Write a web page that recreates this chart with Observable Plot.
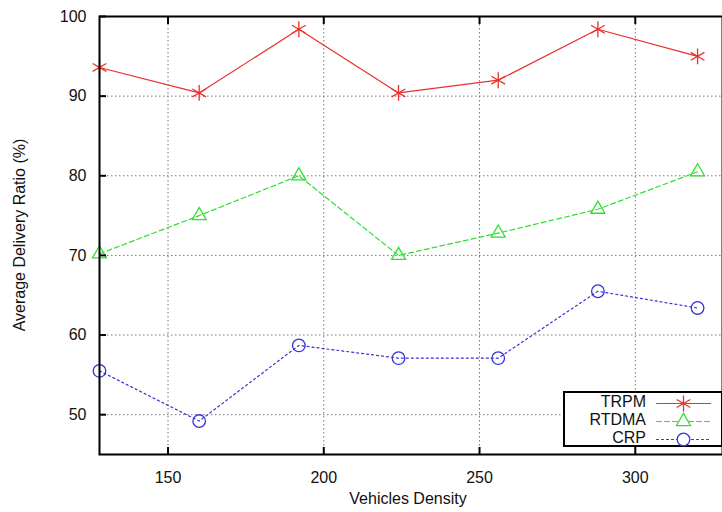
<!DOCTYPE html>
<html><head><meta charset="utf-8">
<script src="https://cdn.jsdelivr.net/npm/d3@7"></script>
<script src="https://cdn.jsdelivr.net/npm/@observablehq/plot@0.6"></script>
<style>
body{margin:0;background:#fff;font-family:"Liberation Sans",Arial,sans-serif;}
#wrap{position:relative;width:722px;height:512px;}
#legend{position:absolute;left:563px;top:391px;width:160px;height:56px;border:2px solid #000;background:#fff;box-sizing:border-box;}
.row{position:absolute;left:0;height:18px;width:160px;}
.row span{position:absolute;right:79px;top:-1px;font-size:16px;color:#111;}
.row svg{position:absolute;left:91px;top:0;}
</style>
</head><body><div id="wrap"><div id="chart"></div><div id="legend"></div></div>
<script>
const density = [128, 160, 192, 224, 256, 288, 320];
const trpm  = [93.6, 90.4, 98.4, 90.4, 92.0, 98.4, 95.0];
const rtdma = [70.2, 75.0, 80.0, 70.0, 72.8, 75.8, 80.5];
const crp   = [55.5, 49.2, 58.7, 57.1, 57.1, 65.5, 63.4];
const seriesNames = ["TRPM", "RTDMA", "CRP"];
const xTicks = [150, 200, 250, 300];
const yTicks = [50, 60, 70, 80, 90, 100];

const colors = {TRPM: "#e8302c", RTDMA: "#2fe02f", CRP: "#3434d6"};
const dashes = {TRPM: null, RTDMA: "5,3", CRP: "2,3"};
const symbols = {TRPM: "asterisk", RTDMA: "triangle", CRP: "circle"};
const sizes = {TRPM: 7.5, RTDMA: 5.2, CRP: 6.3};

const values = {TRPM: trpm, RTDMA: rtdma, CRP: crp};
const rows = seriesNames.flatMap(s => density.map((d, i) => ({series: s, x: d, y: values[s][i]})));

const marks = [
  Plot.gridX(xTicks, {stroke: "#777", strokeOpacity: 1, strokeDasharray: "1.5,2.5", strokeWidth: 1}),
  Plot.gridY(yTicks.filter(v => v < 100), {stroke: "#777", strokeOpacity: 1, strokeDasharray: "1.5,2.5", strokeWidth: 1}),
];
for (const s of seriesNames) {
  const data = rows.filter(r => r.series === s);
  marks.push(Plot.line(data, {x: "x", y: "y", stroke: colors[s], strokeWidth: 1.2, strokeDasharray: dashes[s]}));
  marks.push(Plot.dot(data, {x: "x", y: "y", stroke: colors[s], symbol: symbols[s], r: sizes[s], strokeWidth: 1.3, fill: "none"}));
}
marks.push(
  Plot.axisX(xTicks, {anchor: "bottom", tickSize: -7, text: null, label: null, stroke: "#000", strokeWidth: 2}),
  Plot.axisX(xTicks, {anchor: "top", tickSize: -7, text: null, label: null, stroke: "#000", strokeWidth: 2}),
  Plot.axisX(xTicks, {anchor: "bottom", tickSize: 0, tickPadding: 17, fontSize: 16, fill: "#111", label: null}),
  Plot.axisY(yTicks, {anchor: "left", tickSize: -7, text: null, label: null, stroke: "#000", strokeWidth: 2}),
  Plot.axisY(yTicks, {anchor: "left", tickSize: 0, tickPadding: 13, fontSize: 16, fill: "#111", label: null}),
  Plot.frame({stroke: "#000", strokeWidth: 2})
);

const chart = Plot.plot({
  width: 722, height: 512,
  marginLeft: 99, marginRight: 0, marginTop: 16, marginBottom: 58,
  style: {fontFamily: "'Liberation Sans', Arial, sans-serif", background: "#fff", overflow: "visible"},
  x: {domain: [128, 328]},
  y: {domain: [45, 100]},
  marks
});
document.getElementById("chart").append(chart);

// axis titles
const svg = d3.select(chart);
svg.append("text").attr("x", 408).attr("y", 504).attr("text-anchor", "middle")
  .attr("font-size", 16).attr("fill", "#111").text("Vehicles Density");
svg.append("text").attr("transform", "translate(25,235) rotate(-90)").attr("text-anchor", "middle")
  .attr("font-size", 16).attr("fill", "#111").text("Average Delivery Ratio (%)");

// legend
const leg = document.getElementById("legend");
seriesNames.forEach((s, i) => {
  const row = document.createElement("div");
  row.className = "row";
  row.style.top = (1 + i * 18) + "px";
  row.innerHTML = `<span>${s}</span>`;
  const mini = Plot.plot({
    width: 54, height: 18, margin: 0, axis: null,
    x: {domain: [0, 1]}, y: {domain: [0, 1]},
    style: {background: "transparent", overflow: "visible"},
    marks: [
      Plot.line([{x: 0, y: 0.5}, {x: 1, y: 0.5}], {x: "x", y: "y", stroke: colors[s], strokeWidth: 1.2, strokeDasharray: dashes[s]}),
      Plot.dot([{x: 0.5, y: 0.5}], {x: "x", y: "y", stroke: colors[s], symbol: symbols[s], r: sizes[s], strokeWidth: 1.3, fill: "#fff"})
    ]
  });
  row.append(mini);
  leg.append(row);
});
</script></body></html>
